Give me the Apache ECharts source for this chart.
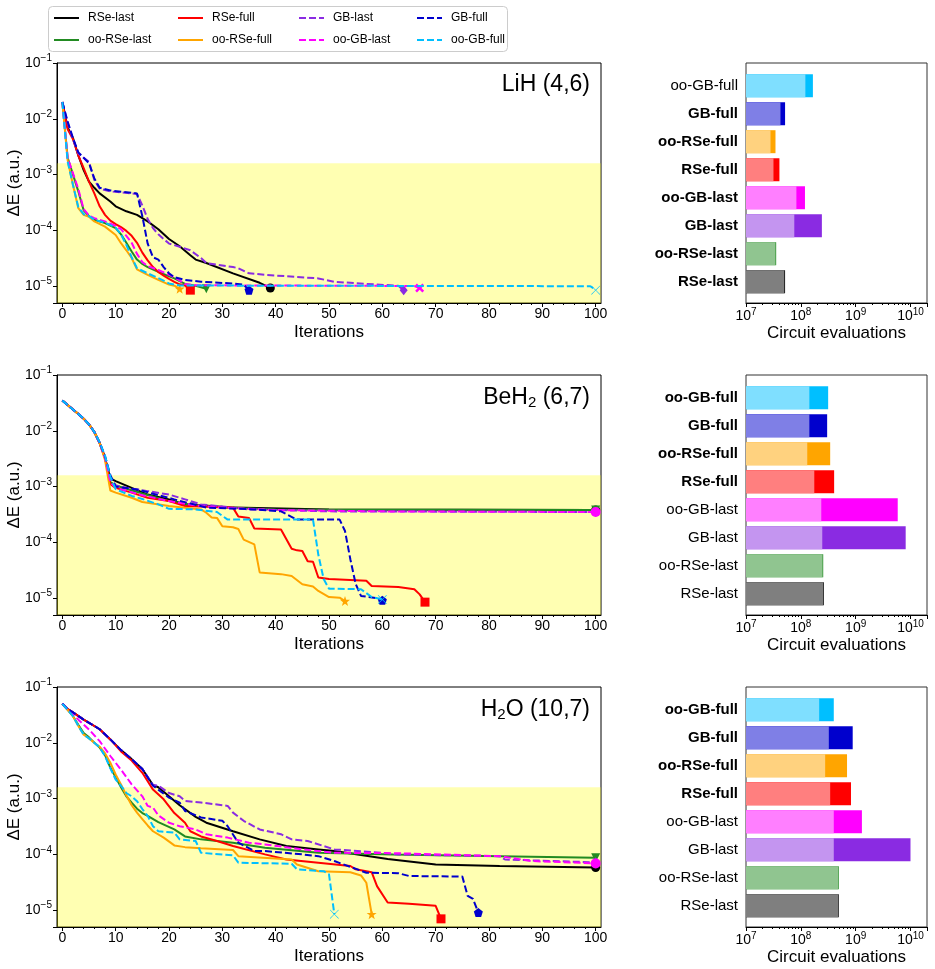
<!DOCTYPE html>
<html>
<head>
<meta charset="utf-8">
<script src="https://cdn.jsdelivr.net/npm/echarts@6/dist/echarts.min.js"></script>
<style>
  html, body { margin: 0; padding: 0; background: #fff; }
  #chart { width: 935px; height: 969px; }
</style>
</head>
<body>
<div id="chart"></div>
<script>
// methods, in legend order (column by column)
const methods = ['RSe-last', 'oo-RSe-last', 'RSe-full', 'oo-RSe-full', 'GB-last', 'oo-GB-last', 'GB-full', 'oo-GB-full'];
const lineColors = ['#000000', '#228b22', '#ff0000', '#ffa500', '#8a2be2', '#ff00ff', '#0000cd', '#00bfff'];
const dashedLines = [false, false, false, false, true, true, true, true];

// bar chart categories, bottom to top
const barCats = ['RSe-last', 'oo-RSe-last', 'GB-last', 'oo-GB-last', 'RSe-full', 'oo-RSe-full', 'GB-full', 'oo-GB-full'];
const barDark = ['#000000', '#228b22', '#8a2be2', '#ff00ff', '#ff0000', '#ffa500', '#0000cd', '#00bfff'];
const barLight = ['#7f7f7f', '#90c590', '#c495f0', '#ff7fff', '#ff7f7f', '#ffd27f', '#7f7fe6', '#7fdfff'];

const chemAccuracy = 1.6e-3;
const convThreshold = 1e-5;
const xTicks = [0, 10, 20, 30, 40, 50, 60, 70, 80, 90, 100];
const xMinorTicks = [2, 4, 6, 8, 12, 14, 16, 18, 22, 24, 26, 28, 32, 34, 36, 38, 42, 44, 46, 48, 52, 54, 56, 58, 62, 64, 66, 68, 72, 74, 76, 78, 82, 84, 86, 88, 92, 94, 96, 98];

// ---- LiH convergence curves [iteration, dE]
const lihRSeLast = [[0,2.0e-2],[1,7.0e-3],[2,4.5e-3],[3,2.2e-3],[4,1.2e-3],[5,7.5e-4],[6,5.8e-4],[7,4.6e-4],[9,3.3e-4],[10,2.7e-4],[12,2.2e-4],[14,1.9e-4],[16,1.45e-4],[18,1.05e-4],[20,7.0e-5],[22,5.2e-5],[24,3.6e-5],[25,3.0e-5],[27,2.6e-5],[32,1.7e-5],[37,1.15e-5],[39,9.3e-6]];
const lihOoRSeLast = [[0,2.0e-2],[1,2.0e-3],[2,1.0e-3],[3,5.0e-4],[4,2.3e-4],[5,1.8e-4],[6,1.55e-4],[8,1.35e-4],[10,1.1e-4],[11,8.5e-5],[12,6.0e-5],[13,4.2e-5],[14,3.0e-5],[15,2.5e-5],[16,2.2e-5],[18,1.8e-5],[21,1.38e-5],[23,1.1e-5],[25,1.02e-5],[27,9.0e-6]];
const lihRSeFull = [[0,2.0e-2],[1,6.5e-3],[2,4.3e-3],[3,2.2e-3],[4,1.3e-3],[5,7.5e-4],[6,4.6e-4],[7,2.7e-4],[8,1.9e-4],[9,1.5e-4],[10,1.3e-4],[11,1.15e-4],[12,9.8e-5],[13,8.0e-5],[14,6.0e-5],[15,4.0e-5],[16,2.9e-5],[17,2.2e-5],[18,1.8e-5],[19,1.55e-5],[20,1.35e-5],[21,1.2e-5],[22,1.08e-5],[23,1.03e-5],[24,8.5e-6]];
const lihOoRSeFull = [[0,2.0e-2],[1,1.8e-3],[2,6.5e-4],[3,2.5e-4],[4,1.9e-4],[5,1.75e-4],[6,1.45e-4],[8,1.17e-4],[10,8.3e-5],[11,5.9e-5],[12,4.4e-5],[13,3.2e-5],[14,2.0e-5],[16,1.6e-5],[18,1.3e-5],[20,1.07e-5],[21,1.02e-5],[22,9.0e-6]];
const lihGBLast = [[0,2.0e-2],[1,8.5e-3],[2,4.3e-3],[3,2.4e-3],[4,2.0e-3],[5,1.7e-3],[6,8.0e-4],[7,5.6e-4],[9,5.0e-4],[14,4.5e-4],[15,2.8e-4],[16,1.6e-4],[17,1.1e-4],[18,8.5e-5],[20,5.8e-5],[22,5.1e-5],[24,4.4e-5],[26,3.2e-5],[27,2.6e-5],[32,2.2e-5],[33,2.1e-5],[35,1.7e-5],[38,1.6e-5],[48,1.38e-5],[51,1.2e-5],[57,1.1e-5],[63,1.02e-5],[64,8.5e-6]];
const lihOoGBLast = [[0,2.0e-2],[1,2.0e-3],[2,1.05e-3],[3,5.5e-4],[4,2.4e-4],[5,1.85e-4],[6,1.66e-4],[8,1.45e-4],[10,1.2e-4],[11,1.05e-4],[12,8.0e-5],[13,6.0e-5],[14,3.8e-5],[15,2.7e-5],[16,2.3e-5],[18,1.95e-5],[21,1.45e-5],[23,1.1e-5],[25,1.04e-5],[50,1.02e-5],[66,1.01e-5],[67,9.3e-6]];
const lihGBFull = [[0,2.0e-2],[1,8.9e-3],[2,4.5e-3],[3,2.5e-3],[4,2.0e-3],[5,1.6e-3],[6,8.5e-4],[7,5.8e-4],[9,5.2e-4],[14,4.6e-4],[15,1.8e-4],[16,5.8e-5],[17,3.3e-5],[18,3.0e-5],[19,2.2e-5],[20,1.7e-5],[21,1.45e-5],[23,1.3e-5],[26,1.2e-5],[32,1.12e-5],[34,1.06e-5],[35,8.5e-6]];
const lihOoGBFull = [[0,2.0e-2],[1,1.7e-3],[2,6.5e-4],[3,2.6e-4],[4,1.95e-4],[5,1.8e-4],[6,1.55e-4],[8,1.38e-4],[10,1.12e-4],[11,8.5e-5],[12,5.5e-5],[13,3.3e-5],[14,2.1e-5],[16,1.7e-5],[18,1.4e-5],[20,1.12e-5],[22,1.03e-5],[40,1.02e-5],[99,1.0e-5],[100,8.5e-6]];

// ---- BeH2 convergence curves
const behRSeLast = [[0,3.5e-2],[1,2.9e-2],[2,2.4e-2],[3,2.0e-2],[4,1.65e-2],[5,1.3e-2],[6,9.5e-3],[7,6.0e-3],[8,3.3e-3],[9,1.4e-3],[10,1.25e-3],[13,9.5e-4],[16,7.2e-4],[20,5.9e-4],[23,4.8e-4],[28,4.5e-4],[32,4.2e-4],[50,3.9e-4],[100,3.8e-4]];
const behOoRSeLast = [[0,3.5e-2],[1,2.9e-2],[2,2.4e-2],[3,2.0e-2],[4,1.65e-2],[5,1.3e-2],[6,9.5e-3],[7,6.0e-3],[8,3.3e-3],[9,1.2e-3],[10,1.05e-3],[15,7.5e-4],[20,5.5e-4],[25,4.6e-4],[30,4.2e-4],[40,3.9e-4],[100,3.8e-4]];
const behRSeFull = [[0,3.5e-2],[1,2.9e-2],[2,2.4e-2],[3,2.0e-2],[4,1.65e-2],[5,1.3e-2],[6,9.5e-3],[7,6.0e-3],[8,3.3e-3],[9,1.1e-3],[10,9.5e-4],[13,7.8e-4],[16,6.3e-4],[20,5.5e-4],[23,4.5e-4],[32,4.2e-4],[33,2.9e-4],[35,2.75e-4],[36,1.78e-4],[41,1.7e-4],[43,7.7e-5],[44,7.2e-5],[45,7.0e-5],[46,4.6e-5],[47,4.5e-5],[48,2.35e-5],[50,2.2e-5],[57,2.05e-5],[58,1.66e-5],[63,1.59e-5],[66,1.45e-5],[67,1.17e-5],[68,8.5e-6]];
const behOoRSeFull = [[0,3.5e-2],[1,2.9e-2],[2,2.4e-2],[3,2.0e-2],[4,1.65e-2],[5,1.3e-2],[6,9.5e-3],[7,6.0e-3],[8,3.0e-3],[9,8.5e-4],[10,7.8e-4],[13,6.3e-4],[15,5.3e-4],[20,4.5e-4],[26,3.9e-4],[27,3.4e-4],[28,2.8e-4],[29,2.75e-4],[30,1.95e-4],[32,1.87e-4],[33,1.74e-4],[34,1.12e-4],[36,9.2e-5],[37,2.9e-5],[41,2.7e-5],[43,2.5e-5],[45,1.78e-5],[47,1.62e-5],[48,1.35e-5],[50,1.05e-5],[52,1.02e-5],[53,8.9e-6]];
const behGBLast = [[0,3.5e-2],[1,2.9e-2],[2,2.4e-2],[3,2.0e-2],[4,1.65e-2],[5,1.3e-2],[6,9.5e-3],[7,6.0e-3],[8,3.4e-3],[9,1.5e-3],[10,1.05e-3],[12,9.5e-4],[16,8.3e-4],[20,7.2e-4],[23,5.9e-4],[26,4.8e-4],[29,4.5e-4],[35,3.9e-4],[50,3.6e-4],[100,3.5e-4]];
const behOoGBLast = [[0,3.5e-2],[1,2.9e-2],[2,2.4e-2],[3,2.0e-2],[4,1.65e-2],[5,1.3e-2],[6,9.5e-3],[7,6.0e-3],[8,3.3e-3],[9,1.2e-3],[10,9.5e-4],[15,7.0e-4],[20,5.5e-4],[25,4.6e-4],[30,4.2e-4],[40,3.8e-4],[60,3.6e-4],[100,3.5e-4]];
const behGBFull = [[0,3.5e-2],[1,2.9e-2],[2,2.4e-2],[3,2.0e-2],[4,1.65e-2],[5,1.3e-2],[6,9.5e-3],[7,6.2e-3],[8,3.5e-3],[9,1.6e-3],[10,1.0e-3],[14,8.9e-4],[21,5.9e-4],[27,4.2e-4],[36,3.9e-4],[41,3.6e-4],[44,2.56e-4],[52,2.56e-4],[53,1.6e-4],[54,5.0e-5],[55,1.8e-5],[56,1.1e-5],[59,1.0e-5],[60,9.2e-6]];
const behOoGBFull = [[0,3.5e-2],[1,2.9e-2],[2,2.4e-2],[3,2.0e-2],[4,1.65e-2],[5,1.3e-2],[6,9.5e-3],[7,6.2e-3],[8,3.6e-3],[9,1.5e-3],[10,9.0e-4],[13,6.8e-4],[15,6.0e-4],[18,4.8e-4],[20,4.0e-4],[25,3.9e-4],[29,3.5e-4],[31,2.56e-4],[47,2.56e-4],[48,6.0e-5],[49,2.2e-5],[50,1.48e-5],[56,1.45e-5],[58,1.05e-5],[60,9.5e-6]];

// ---- H2O convergence curves
const h2oRSeLast = [[0,5.0e-2],[1,4.0e-2],[2,3.5e-2],[4,2.6e-2],[6,2.0e-2],[7,1.75e-2],[9,1.15e-2],[11,7.4e-3],[13,5.1e-3],[15,3.4e-3],[17,1.75e-3],[18,1.6e-3],[20,1.1e-3],[22,7.6e-4],[25,4.7e-4],[27,3.7e-4],[32,2.6e-4],[37,1.86e-4],[42,1.41e-4],[48,1.23e-4],[51,1.15e-4],[61,8.3e-5],[70,6.6e-5],[82,6.2e-5],[100,5.8e-5]];
const h2oOoRSeLast = [[0,5.0e-2],[1,3.9e-2],[2,3.0e-2],[3,2.1e-2],[4,1.5e-2],[5,1.25e-2],[6,1.0e-2],[7,8.2e-3],[8,6.0e-3],[9,3.6e-3],[10,2.4e-3],[11,1.6e-3],[12,1.1e-3],[13,8.5e-4],[14,6.6e-4],[15,5.5e-4],[16,4.9e-4],[18,3.8e-4],[21,2.8e-4],[23,2.1e-4],[26,1.86e-4],[32,1.62e-4],[38,1.32e-4],[48,1.07e-4],[62,1.0e-4],[82,9.3e-5],[100,8.7e-5]];
const h2oRSeFull = [[0,5.0e-2],[1,4.0e-2],[2,3.5e-2],[4,2.6e-2],[6,2.0e-2],[7,1.75e-2],[9,1.15e-2],[11,7.0e-3],[13,4.8e-3],[15,2.9e-3],[17,1.45e-3],[19,9.7e-4],[21,5.5e-4],[23,3.7e-4],[24,2.6e-4],[26,2.1e-4],[29,1.74e-4],[32,1.41e-4],[38,1.0e-4],[42,8.1e-5],[48,7.1e-5],[54,6.2e-5],[55,5.4e-5],[58,4.8e-5],[59,2.7e-5],[61,1.37e-5],[65,1.3e-5],[70,1.2e-5],[71,7.0e-6]];
const h2oOoRSeFull = [[0,5.0e-2],[1,3.9e-2],[2,3.0e-2],[3,2.0e-2],[4,1.4e-2],[5,1.2e-2],[6,1.0e-2],[7,8.5e-3],[8,6.5e-3],[9,4.4e-3],[10,2.7e-3],[11,1.8e-3],[12,1.15e-3],[13,7.6e-4],[14,5.6e-4],[15,4.3e-4],[16,3.3e-4],[17,2.6e-4],[19,2.0e-4],[21,1.45e-4],[23,1.35e-4],[26,1.29e-4],[32,1.2e-4],[33,9.3e-5],[43,8.1e-5],[44,6.6e-5],[48,5.0e-5],[54,4.8e-5],[56,4.2e-5],[57,3.1e-5],[58,8.5e-6]];
const h2oGBLast = [[0,5.0e-2],[1,4.0e-2],[2,3.5e-2],[4,2.6e-2],[6,2.0e-2],[7,1.75e-2],[9,1.15e-2],[11,7.4e-3],[13,5.1e-3],[15,3.4e-3],[17,1.75e-3],[18,1.7e-3],[20,1.26e-3],[22,1.1e-3],[23,9.1e-4],[26,8.5e-4],[31,7.4e-4],[32,5.6e-4],[34,4.0e-4],[37,2.8e-4],[41,2.3e-4],[43,1.86e-4],[46,1.74e-4],[51,1.23e-4],[60,1.07e-4],[63,1.0e-4],[82,9.3e-5],[83,8.1e-5],[100,7.2e-5]];
const h2oOoGBLast = [[0,5.0e-2],[1,4.0e-2],[3,2.6e-2],[5,1.73e-2],[7,1.07e-2],[9,5.8e-3],[11,3.3e-3],[13,1.8e-3],[15,1.1e-3],[16,7.4e-4],[17,6.9e-4],[18,5.0e-4],[20,3.7e-4],[22,3.2e-4],[25,2.8e-4],[27,2.3e-4],[31,2.0e-4],[35,1.62e-4],[38,1.51e-4],[45,1.23e-4],[51,1.07e-4],[63,1.05e-4],[82,9.3e-5],[88,7.6e-5],[100,6.9e-5]];
const h2oGBFull = [[0,5.0e-2],[1,4.0e-2],[2,3.5e-2],[4,2.6e-2],[6,2.0e-2],[7,1.75e-2],[9,1.15e-2],[11,7.4e-3],[13,5.1e-3],[15,3.4e-3],[17,1.7e-3],[20,1.04e-3],[22,8.5e-4],[23,6.0e-4],[26,4.6e-4],[30,4.0e-4],[31,3.2e-4],[33,1.62e-4],[36,1.15e-4],[38,1.15e-4],[45,1.0e-4],[48,9.3e-5],[51,7.6e-5],[57,4.7e-5],[63,4.6e-5],[65,4.1e-5],[75,4.0e-5],[76,1.8e-5],[77,1.59e-5],[78,9.1e-6]];
const h2oOoGBFull = [[0,5.0e-2],[1,3.9e-2],[2,3.0e-2],[3,2.0e-2],[4,1.4e-2],[5,1.2e-2],[6,1.0e-2],[7,8.3e-3],[8,5.8e-3],[9,3.5e-3],[10,2.2e-3],[11,1.7e-3],[12,1.26e-3],[13,1.1e-3],[14,9.0e-4],[15,6.5e-4],[16,4.9e-4],[17,3.2e-4],[18,2.6e-4],[21,2.45e-4],[22,1.86e-4],[25,1.74e-4],[26,1.07e-4],[32,9.6e-5],[33,7.1e-5],[43,6.8e-5],[44,5.4e-5],[49,5.0e-5],[50,4.4e-5],[51,8.5e-6]];

// ---- circuit evaluations (light = first part, total = full bar), order of barCats
const lihEvalsLight = [5.0e7, 3.45e7, 7.6e7, 8.3e7, 3.17e7, 2.8e7, 4.25e7, 1.21e8];
const lihEvalsTotal = [5.16e7, 3.55e7, 2.42e8, 1.19e8, 4.07e7, 3.45e7, 5.16e7, 1.66e8];
const behEvalsLight = [2.56e8, 2.49e8, 2.46e8, 2.36e8, 1.76e8, 1.31e8, 1.43e8, 1.43e8];
const behEvalsTotal = [2.63e8, 2.56e8, 8.17e9, 5.85e9, 4.05e8, 3.43e8, 3.02e8, 3.15e8];
const h2oEvalsLight = [4.79e8, 4.79e8, 3.99e8, 3.99e8, 3.43e8, 2.78e8, 3.24e8, 2.16e8];
const h2oEvalsTotal = [4.92e8, 4.92e8, 1.0e10, 1.30e9, 8.22e8, 6.96e8, 8.83e8, 3.99e8];
const lihBold = [true, true, true, true, true, true, true, false];
const behBold = [false, false, false, false, true, true, true, true];
const h2oBold = [false, false, false, false, true, true, true, true];

const panels = [
  { curves: [lihRSeLast, lihOoRSeLast, lihRSeFull, lihOoRSeFull, lihGBLast, lihOoGBLast, lihGBFull, lihOoGBFull], light: lihEvalsLight, total: lihEvalsTotal, bold: lihBold },
  { curves: [behRSeLast, behOoRSeLast, behRSeFull, behOoRSeFull, behGBLast, behOoGBLast, behGBFull, behOoGBFull], light: behEvalsLight, total: behEvalsTotal, bold: behBold },
  { curves: [h2oRSeLast, h2oOoRSeLast, h2oRSeFull, h2oOoRSeFull, h2oGBLast, h2oOoGBLast, h2oGBFull, h2oOoGBFull], light: h2oEvalsLight, total: h2oEvalsTotal, bold: h2oBold }
];

const FONT = "'Liberation Sans', Arial, sans-serif";
const STAR = 'path://M0,-10 L2.35,-3.24 L9.51,-3.09 L3.8,1.24 L5.88,8.09 L0,4 L-5.88,8.09 L-3.8,1.24 L-9.51,-3.09 L-2.35,-3.24 Z';
const PENTA = 'path://M0,-10 L9.51,-3.09 L5.88,8.09 L-5.88,8.09 L-9.51,-3.09 Z';
const XFILL = 'path://M-10,-6 L-6,-10 L0,-4 L6,-10 L10,-6 L4,0 L10,6 L6,10 L0,4 L-6,10 L-10,6 L-4,0 Z';
const XTHIN = 'path://M-10,-9 L-9,-10 L0,-1 L9,-10 L10,-9 L1,0 L10,9 L9,10 L0,1 L-9,10 L-10,9 L-1,0 Z';
const endMarkers = [
  { symbol: 'circle', symbolSize: 9 },
  { symbol: 'triangle', symbolSize: 9, symbolRotate: 180 },
  { symbol: 'rect', symbolSize: 9 },
  { symbol: STAR, symbolSize: 10 },
  { symbol: 'diamond', symbolSize: [8, 10] },
  { symbol: XFILL, symbolSize: 9 },
  { symbol: PENTA, symbolSize: 9 },
  { symbol: XTHIN, symbolSize: 9 }
];

const gridTops = [63, 375, 687];
const PH = 240;

function powLabel(v) {
  const e = Math.log10(v);
  const r = Math.round(e);
  if (Math.abs(e - r) > 1e-6) return '';
  return '10{s|' + (r < 0 ? '\u2212' + (-r) : r) + '}';
}
const supRich = { s: { fontSize: 10, fontFamily: FONT, color: '#000', padding: [0, 0, 9, 0] } };

const grid = [], xAxis = [], yAxis = [], series = [], title = [];

panels.forEach((p, k) => {
  const top = gridTops[k];
  grid.push({ left: 57, width: 544, top: top, height: PH, outerBoundsMode: 'none', containLabel: false, show: true, borderColor: '#000', borderWidth: 1, backgroundColor: 'transparent' });
  grid.push({ left: 746, width: 181, top: top, height: PH, outerBoundsMode: 'none', containLabel: false, show: true, borderColor: '#333', borderWidth: 1, backgroundColor: 'transparent' });
  grid.push({ left: 746, width: 181, top: top + 8.7, height: 224, outerBoundsMode: 'none', containLabel: false });

  xAxis.push({
    gridIndex: 3 * k, type: 'value', min: -1, max: 101, position: 'bottom',
    name: 'Iterations', nameLocation: 'middle', nameGap: 21,
    nameTextStyle: { fontSize: 17, fontFamily: FONT, color: '#000' },
    axisLine: { onZero: false, lineStyle: { color: '#000' } },
    axisTick: { customValues: xTicks, length: 4, lineStyle: { color: '#000' } },
    axisLabel: { customValues: xTicks, fontSize: 14, fontFamily: FONT, color: '#000', margin: 4 },
    splitLine: { show: false }
  });
  xAxis.push({
    gridIndex: 3 * k, type: 'value', min: -1, max: 101, position: 'bottom',
    axisLine: { show: false, onZero: false },
    axisTick: { customValues: xMinorTicks, length: 2, lineStyle: { color: '#000' } },
    axisLabel: { show: false }, splitLine: { show: false }
  });
  xAxis.push({
    gridIndex: 3 * k + 1, type: 'log', logBase: 10, min: 1e7, max: 2e10,
    name: 'Circuit evaluations', nameLocation: 'middle', nameGap: 22,
    nameTextStyle: { fontSize: 17, fontFamily: FONT, color: '#000' },
    axisLine: { onZero: false, lineStyle: { color: '#000' } },
    axisTick: { length: 4, lineStyle: { color: '#000' } },
    minorTick: { show: true, splitNumber: 9, length: 2, lineStyle: { color: '#000' } },
    axisLabel: { formatter: powLabel, fontSize: 14, fontFamily: FONT, color: '#000', margin: 4, rich: supRich },
    splitLine: { show: false }
  });
  xAxis.push({ gridIndex: 3 * k + 2, type: 'log', logBase: 10, min: 1e7, max: 2e10, show: false });

  yAxis.push({
    gridIndex: 3 * k, type: 'log', logBase: 10, min: 5e-6, max: 0.1,
    name: '\u0394E (a.u.)', nameLocation: 'middle', nameGap: 34, nameMoveOverlap: false,
    nameTextStyle: { fontSize: 17, fontFamily: FONT, color: '#000' },
    axisLine: { show: true, onZero: false, lineStyle: { color: '#000' } },
    axisTick: { length: 4, lineStyle: { color: '#000' } },
    axisLabel: { formatter: powLabel, fontSize: 14, fontFamily: FONT, color: '#000', margin: 5, rich: supRich },
    splitLine: { show: false }
  });
  yAxis.push({ gridIndex: 3 * k + 1, type: 'value', min: 0, max: 1, show: false });
  const bold = p.bold;
  yAxis.push({
    gridIndex: 3 * k + 2, type: 'category', data: barCats,
    axisLine: { show: false, onZero: false }, axisTick: { show: false },
    axisLabel: {
      fontSize: 15, fontFamily: FONT, color: '#000', margin: 8,
      formatter: (v, i) => bold[i] ? '{b|' + v + '}' : v,
      rich: { b: { fontSize: 15, fontWeight: 'bold', fontFamily: FONT, color: '#000' } }
    }
  });

  // chemical accuracy band and convergence threshold
  series.push({
    type: 'line', xAxisIndex: 4 * k, yAxisIndex: 3 * k, data: [], z: 1, silent: true,
    markArea: { silent: true, itemStyle: { color: 'rgba(255,255,0,0.3)' }, data: [[{ yAxis: chemAccuracy }, { yAxis: 5e-6 }]] },
    markLine: { silent: true, symbol: 'none', label: { show: false },
      lineStyle: { color: '#8c8c1e', type: [1.5, 2.5], width: 1 }, data: [{ yAxis: convThreshold }] }
  });

  p.curves.forEach((pts, i) => {
    const mk = (k > 0 && i === 5) ? { symbol: 'circle', symbolSize: 10 } : endMarkers[i];
    series.push({
      name: methods[i], type: 'line', xAxisIndex: 4 * k, yAxisIndex: 3 * k,
      symbol: 'none', z: 3 + i,
      color: lineColors[i],
      lineStyle: { color: lineColors[i], width: 2, type: dashedLines[i] ? [7, 3] : 'solid' },
      itemStyle: { color: lineColors[i] },
      data: pts.map((d, j) => j === pts.length - 1 ? Object.assign({ value: d }, mk) : d),
      animation: false
    });
  });

  // stacked-look bars: dark total with the light part drawn over it
  series.push({
    type: 'bar', xAxisIndex: 4 * k + 3, yAxisIndex: 3 * k + 2, barWidth: 23, barGap: '-100%',
    data: p.total.map((v, i) => ({ value: v, itemStyle: { color: barDark[i] } })), silent: true
  });
  series.push({
    type: 'bar', xAxisIndex: 4 * k + 3, yAxisIndex: 3 * k + 2, barWidth: 23, barGap: '-100%',
    data: p.light.map((v, i) => ({ value: v, itemStyle: { color: barLight[i] } })), silent: true
  });
});

const titleRich = {
  n: { fontSize: 23, fontWeight: 'normal', fontFamily: FONT, color: '#000' },
  s: { fontSize: 15, fontWeight: 'normal', fontFamily: FONT, color: '#000', padding: [10, 0, 0, 0] }
};
const titleTexts = ['{n|LiH (4,6)}', '{n|BeH}{s|2}{n| (6,7)}', '{n|H}{s|2}{n|O (10,7)}'];
titleTexts.forEach((t, k) => {
  title.push({ text: t, right: 345, top: gridTops[k] + 10, padding: 0, textStyle: { fontWeight: 'normal', rich: titleRich } });
});

const legendCols = [[0, 1], [2, 3], [4, 5], [6, 7]];
const legendLefts = [53, 177, 298, 416];
const legend = legendCols.map((c, j) => ({
  data: c.map(i => methods[i]), left: legendLefts[j], top: 12, orient: 'vertical', padding: 0,
  itemWidth: 25, itemHeight: 14, itemGap: 10, selectedMode: false,
  itemStyle: { opacity: 0 },
  textStyle: { fontSize: 12, fontFamily: FONT, color: '#000', padding: [0, 0, 0, 4] }
}));

const chart = echarts.init(document.getElementById('chart'), null, { renderer: 'canvas' });
chart.setOption({
  animation: false,
  backgroundColor: '#fff',
  graphic: [{ type: 'rect', left: 48, top: 6, shape: { width: 459, height: 45, r: 4 }, style: { fill: '#fff', stroke: '#cccccc', lineWidth: 1 }, z: -1 }],
  title, legend, grid, xAxis, yAxis, series
});
</script>
</body>
</html>
